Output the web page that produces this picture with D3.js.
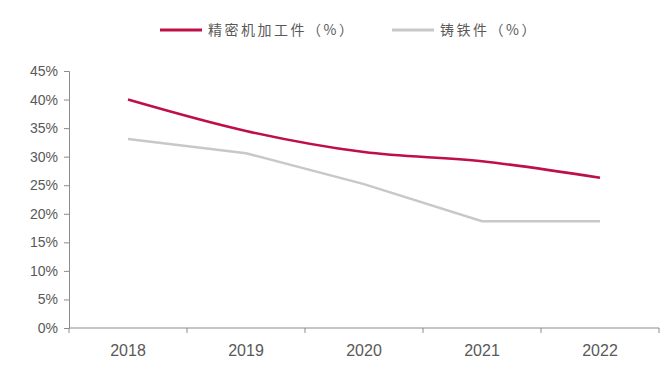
<!DOCTYPE html>
<html>
<head>
<meta charset="utf-8">
<script src="https://cdn.jsdelivr.net/npm/d3@7"></script>
<style>
  body { margin: 0; background: #fff; }
  .axis text { fill: #595959; font-family: "Liberation Sans", Arial, sans-serif; }
  .axis path, .axis line { stroke: #8c8c8c; }
  .legend text { fill: #595959; font-family: "Noto Sans CJK SC", sans-serif; font-size: 14px; letter-spacing: 2.5px; }
</style>
</head>
<body>
<div class="chart"></div>
<script>
// values
var years = ['2018', '2019', '2020', '2021', '2022'];
var precision = [40.0, 34.5, 30.8, 29.2, 26.3];   // 精密机加工件（%）
var casting = [33.1, 30.6, 25.2, 18.7, 18.7];     // 铸铁件（%）
var yTicks = [0, 5, 10, 15, 20, 25, 30, 35, 40, 45];

var width = 670,
    height = 372,
    margin = { top: 71, right: 11, bottom: 44, left: 69 },
    w = width - margin.left - margin.right,
    h = height - margin.top - margin.bottom;

var svg = d3.select(".chart")
    .append("svg")
    .attr("width", width)
    .attr("height", height);

var g = svg.append("g")
    .attr("transform", "translate(" + margin.left + "," + margin.top + ")");

var x = d3.scaleBand()
    .domain(years)
    .range([0, w]);

var y = d3.scaleLinear()
    .domain([0, 45])
    .range([h, 0]);

// y axis
g.append("g")
    .attr("class", "axis")
    .call(d3.axisLeft(y).tickValues(yTicks).tickSize(5).tickPadding(6)
        .tickFormat(function(d) { return d + "%"; }))
    .selectAll("text")
    .style("font-size", "14px");

// x axis with ticks on the band edges
var xAxis = g.append("g")
    .attr("class", "axis")
    .attr("transform", "translate(0," + h + ")");

xAxis.append("line")
    .attr("x1", 0).attr("x2", w)
    .attr("y1", 0).attr("y2", 0);

var edges = years.map(function(d) { return x(d); }).concat([w]);
xAxis.selectAll(".edge")
    .data(edges)
    .enter()
    .append("line")
    .attr("class", "edge")
    .attr("x1", function(d) { return d; })
    .attr("x2", function(d) { return d; })
    .attr("y1", 0)
    .attr("y2", 5);

xAxis.selectAll(".lbl")
    .data(years)
    .enter()
    .append("text")
    .attr("class", "lbl")
    .attr("x", function(d) { return x(d) + x.bandwidth() / 2; })
    .attr("y", 28)
    .attr("text-anchor", "middle")
    .style("font-size", "16px")
    .text(function(d) { return d; });

// lines
var cx = function(d, i) { return x(years[i]) + x.bandwidth() / 2; };

var smooth = d3.line()
    .x(cx)
    .y(function(d) { return y(d); })
    .curve(d3.curveMonotoneX);

var straight = d3.line()
    .x(cx)
    .y(function(d) { return y(d); });

g.append("path")
    .datum(casting)
    .attr("fill", "none")
    .attr("stroke", "#c8c8c8")
    .attr("stroke-width", 2.5)
    .attr("d", straight);

g.append("path")
    .datum(precision)
    .attr("fill", "none")
    .attr("stroke", "#be0f46")
    .attr("stroke-width", 2.5)
    .attr("d", smooth);

// legend
var legend = svg.append("g").attr("class", "legend");
var items = [
    { name: "精密机加工件（%）", color: "#be0f46", x: 160 },
    { name: "铸铁件（%）", color: "#c8c8c8", x: 392 }
];
items.forEach(function(it) {
    legend.append("line")
        .attr("x1", it.x).attr("x2", it.x + 42)
        .attr("y1", 30).attr("y2", 30)
        .attr("stroke", it.color)
        .attr("stroke-width", 3);
    legend.append("text")
        .attr("x", it.x + 48)
        .attr("y", 35)
        .text(it.name);
});
</script>
</body>
</html>
